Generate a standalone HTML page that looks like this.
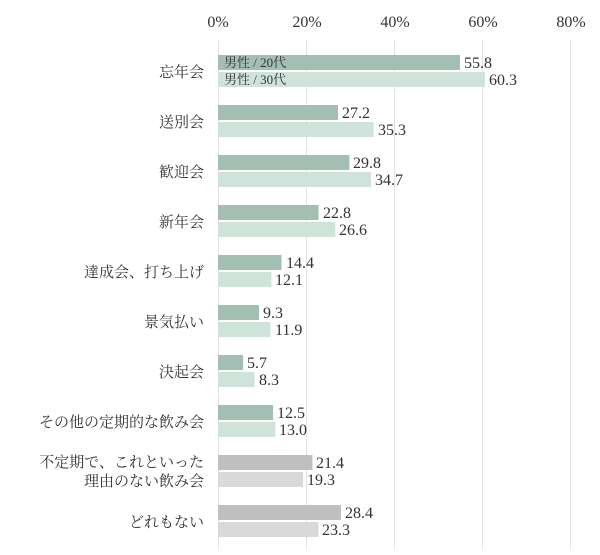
<!DOCTYPE html>
<html><head><meta charset="utf-8"><style>
html,body{margin:0;padding:0;background:#fff;}
svg text{font-family:"Liberation Serif","Noto Serif CJK SC",serif;fill:#333;font-size:16px;}
.c{text-anchor:end;font-size:15px;}
.lg{font-size:13px;}
</style></head><body>
<svg width="600" height="550" xmlns="http://www.w3.org/2000/svg">
<g stroke="#e3e3e3" stroke-width="1">
<line x1="218.5" y1="40" x2="218.5" y2="550"/>
<line x1="306.5" y1="40" x2="306.5" y2="550"/>
<line x1="394.5" y1="40" x2="394.5" y2="550"/>
<line x1="482.5" y1="40" x2="482.5" y2="550"/>
<line x1="570.5" y1="40" x2="570.5" y2="550"/>
</g>
<g text-anchor="middle">
<text x="218" y="27">0%</text><text x="307" y="27">20%</text><text x="395" y="27">40%</text><text x="483" y="27">60%</text><text x="571" y="27">80%</text>
</g>
<g fill="#a3bfb3">
<rect x="218" y="55" width="242" height="15"/>
<rect x="218" y="105" width="120.0" height="15"/>
<rect x="218" y="155" width="131.4" height="15"/>
<rect x="218" y="205" width="100.5" height="15"/>
<rect x="218" y="255" width="63.5" height="15"/>
<rect x="218" y="305" width="41.0" height="15"/>
<rect x="218" y="355" width="25.1" height="15"/>
<rect x="218" y="405" width="55.1" height="15"/>
</g>
<g fill="#d0e3db">
<rect x="218" y="72" width="267" height="15"/>
<rect x="218" y="122" width="155.7" height="15"/>
<rect x="218" y="172" width="153.0" height="15"/>
<rect x="218" y="222" width="117.3" height="15"/>
<rect x="218" y="272" width="53.4" height="15"/>
<rect x="218" y="322" width="52.5" height="15"/>
<rect x="218" y="372" width="36.6" height="15"/>
<rect x="218" y="422" width="57.3" height="15"/>
</g>
<rect x="218" y="455" width="94.4" height="15" fill="#bfbfbf"/>
<rect x="218" y="472" width="85.1" height="15" fill="#d9d9d9"/>
<rect x="218" y="505" width="123" height="15" fill="#bfbfbf"/>
<rect x="218" y="522" width="100.5" height="15" fill="#d9d9d9"/>

<text x="464" y="68">55.8</text><text x="489" y="85">60.3</text>
<text x="342" y="118">27.2</text><text x="378" y="135">35.3</text>
<text x="353" y="168">29.8</text><text x="375" y="185">34.7</text>
<text x="323" y="218">22.8</text><text x="339" y="235">26.6</text>
<text x="286" y="268">14.4</text><text x="275" y="285">12.1</text>
<text x="263" y="318">9.3</text><text x="275" y="335">11.9</text>
<text x="247" y="368">5.7</text><text x="259" y="385">8.3</text>
<text x="277" y="418">12.5</text><text x="279" y="435">13.0</text>
<text x="316" y="468">21.4</text><text x="307" y="485">19.3</text>
<text x="345" y="518">28.4</text><text x="322" y="535">23.3</text>

<text class="c" x="204" y="77">忘年会</text>
<text class="c" x="204" y="127">送別会</text>
<text class="c" x="204" y="177">歓迎会</text>
<text class="c" x="204" y="227">新年会</text>
<text class="c" x="204" y="277">達成会、打ち上げ</text>
<text class="c" x="204" y="327">景気払い</text>
<text class="c" x="204" y="377">決起会</text>
<text class="c" x="204" y="427">その他の定期的な飲み会</text>
<text class="c" x="204" y="467">不定期で、これといった</text>
<text class="c" x="204" y="486">理由のない飲み会</text>
<text class="c" x="204" y="527">どれもない</text>
<text class="lg" x="224" y="67">男性 / 20代</text>
<text class="lg" x="224" y="84">男性 / 30代</text>
</svg>
</body></html>
